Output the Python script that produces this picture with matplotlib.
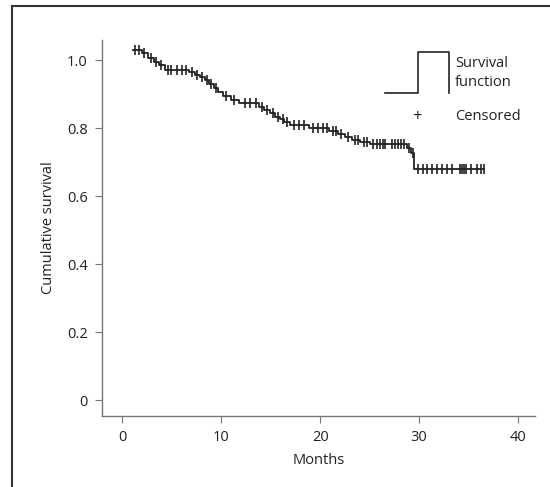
# Kaplan-Meier style survival curve
import numpy as np
import matplotlib.pyplot as plt
from matplotlib.patches import Rectangle

plt.rcParams['font.family'] = ['Open Sans', 'DejaVu Sans']

# step points: month at which the curve changes and level after it
step_months = [1.1, 2.0, 2.6, 3.2, 3.7, 4.3, 6.8, 7.4, 7.9, 8.4, 8.8, 9.3, 9.7,
               10.2, 11.0, 11.8, 13.8, 14.3, 14.9, 15.4, 15.9, 16.4, 17.0, 18.9,
               20.9, 21.8, 22.5, 23.2, 24.0, 25.0, 28.8, 29.2, 29.5]
step_surv = [1.03, 1.02, 1.005, 0.995, 0.985, 0.972, 0.966, 0.957, 0.95, 0.94,
             0.93, 0.918, 0.905, 0.895, 0.884, 0.873, 0.862, 0.852, 0.843, 0.834,
             0.826, 0.818, 0.81, 0.80, 0.79, 0.782, 0.774, 0.766, 0.758, 0.752,
             0.742, 0.728, 0.68]
last_month = 36.5

censor_months = [1.3, 1.7, 2.2, 2.9, 3.4, 3.9, 4.6, 4.9, 5.5, 6.1, 6.5, 7.1, 7.6,
                 8.1, 8.6, 9.0, 9.5, 10.5, 11.3, 12.4, 12.9, 13.5, 14.1, 14.6,
                 15.2, 15.7, 16.2, 16.7, 17.4, 17.9, 18.4, 19.3, 19.8, 20.3, 20.7,
                 21.3, 21.6, 22.1, 22.8, 23.5, 23.8, 24.4, 24.7, 25.3, 25.7, 26.0,
                 26.3, 26.6, 27.3, 27.6, 27.9, 28.2, 28.5, 29.0, 29.35, 29.9, 30.4,
                 30.8, 31.3, 31.8, 32.3, 32.8, 33.3, 34.1, 34.3, 34.5, 34.7, 35.2,
                 35.8, 36.2, 36.5]

xticks = [0, 10, 20, 30, 40]
yticks = [0, 0.2, 0.4, 0.6, 0.8, 1.0]
ytick_labels = ['0', '0.2', '0.4', '0.6', '0.8', '1.0']

fig = plt.figure(figsize=(5.5, 4.87), dpi=100)
# outer frame (only top and left visible)
fig.patches.append(Rectangle((12/550, -0.2), 1.2, 0.2 + 481/487, transform=fig.transFigure,
                             fill=False, edgecolor='#333333', linewidth=1.5))

ax = fig.add_axes([101.7/550, 1 - 415.7/487, 433.3/550, 375.7/487])

xs = list(step_months) + [last_month]
ys = list(step_surv) + [step_surv[-1]]
ax.step(xs, ys, where='post', color='#222222', linewidth=1.3)

def surv_at(t):
    idx = np.searchsorted(step_months, t, side='right') - 1
    return step_surv[max(idx, 0)]

cy = [surv_at(t) for t in censor_months]
ax.plot(censor_months, cy, linestyle='none', marker='|', markersize=7,
        markeredgewidth=1.2, color='#222222')

ax.set_xlim(-2.06, 41.7)
ax.set_ylim(-0.046, 1.059)
ax.set_xticks(xticks)
ax.set_yticks(yticks)
ax.set_yticklabels(ytick_labels)
for s in ['top', 'right']:
    ax.spines[s].set_visible(False)
for s in ['left', 'bottom']:
    ax.spines[s].set_color('#777777')
    ax.spines[s].set_linewidth(1.0)
ax.tick_params(colors='#777777', labelcolor='#222222', labelsize=10.5, length=5, width=0.8, pad=5)
ax.set_xlabel('Months', fontsize=10.5, color='#222222', labelpad=6)
ax.set_ylabel('Cumulative survival', fontsize=10.5, color='#222222', labelpad=8)

# legend drawn by hand
tr = ax.transAxes
ax.plot([0.654, 0.729, 0.729, 0.802, 0.802], [0.858, 0.858, 0.967, 0.967, 0.858],
        color='#222222', linewidth=1.2, transform=tr, clip_on=False)
ax.text(0.815, 0.912, 'Survival\nfunction', transform=tr, fontsize=10.5, color='#222222',
        ha='left', va='center', linespacing=1.3)
ax.text(0.727, 0.794, '+', transform=tr, fontsize=12, color='#222222', ha='center', va='center')
ax.text(0.815, 0.796, 'Censored', transform=tr, fontsize=10.5, color='#222222',
        ha='left', va='center')

fig.savefig('out.png', dpi=100)
